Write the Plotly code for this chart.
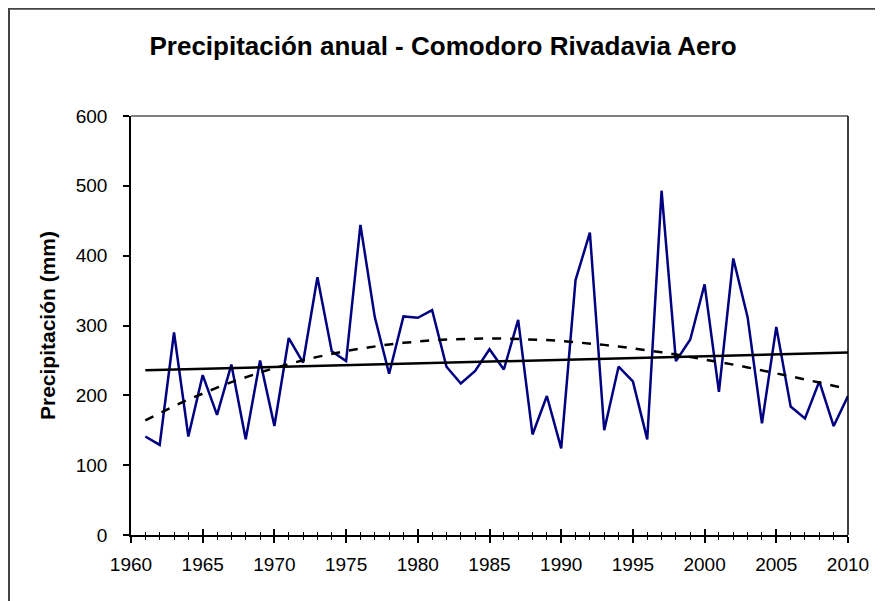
import numpy as np
import plotly.graph_objects as go

years = list(range(1961, 2011))
precip = [141, 129, 290, 141, 229, 172, 244, 137, 250, 156,
          282, 247, 369, 263, 249, 444, 312, 231, 313, 311,
          322, 241, 217, 235, 266, 237, 308, 144, 199, 124,
          365, 433, 150, 241, 220, 137, 493, 249, 280, 359,
          205, 396, 312, 160, 298, 184, 167, 220, 156, 199]

title_text = "Precipitación anual - Comodoro Rivadavia Aero"
y_title = "Precipitación (mm)"
x_ticks = list(range(1960, 2011, 5))
y_ticks = list(range(0, 601, 100))

x = np.array(years, dtype=float)
yv = np.array(precip, dtype=float)
xc = x - x.mean()
lin = np.polyval(np.polyfit(xc, yv, 1), xc)
poly = np.polyval(np.polyfit(xc, yv, 3), xc)

fig = go.Figure()
fig.add_trace(go.Scatter(x=years, y=precip, mode="lines",
                         line=dict(color="#000080", width=2.5), showlegend=False))
fig.add_trace(go.Scatter(x=years, y=lin, mode="lines",
                         line=dict(color="black", width=2.5), showlegend=False))
fig.add_trace(go.Scatter(x=years, y=poly, mode="lines",
                         line=dict(color="black", width=2.5, dash="dash"), showlegend=False))
# invisible trace on overlay axis to carry inside ticks
fig.add_trace(go.Scatter(x=[1960, 2010], y=[0, 0], xaxis="x2", mode="lines",
                         line=dict(width=0), opacity=0, showlegend=False, hoverinfo="skip"))

font_family = "Liberation Sans, Arial, sans-serif"
# page body has an 8px margin, so the figure is 8px smaller and offset
fig.update_layout(
    width=875, height=593,
    margin=dict(l=123, r=35, t=108, b=66),
    paper_bgcolor="white", plot_bgcolor="white",
    font=dict(family=font_family, color="black", size=19),
    title=dict(text="<b>" + title_text + "</b>", x=(443 - 8) / 875,
               xref="container", xanchor="center",
               y=1 - (46 - 8) / 593, yanchor="middle", font=dict(size=26, family=font_family)),
    xaxis=dict(range=[1960, 2010], tickvals=x_ticks, ticks="outside", ticklen=6,
               tickwidth=1.5, tickcolor="black", showgrid=False, zeroline=False,
               showline=True, linecolor="black", linewidth=1.5, mirror=False,
               tickfont=dict(size=19), ticklabelstandoff=5,
               minor=dict(dtick=1, ticks="outside", ticklen=3, tickwidth=1, tickcolor="black")),
    xaxis2=dict(range=[1960, 2010], overlaying="x", anchor="y", side="bottom",
                tickvals=x_ticks, ticks="inside", ticklen=6, tickwidth=1.5,
                tickcolor="black", showticklabels=False, showgrid=False, zeroline=False,
                showline=False,
                minor=dict(dtick=1, ticks="inside", ticklen=3, tickwidth=1, tickcolor="black")),
    yaxis=dict(range=[0, 600], tickvals=y_ticks, ticks="outside", ticklen=6,
               tickwidth=1.5, tickcolor="black", showgrid=False, zeroline=False,
               showline=True, linecolor="black", linewidth=1.5,
               tickfont=dict(size=19), ticklabelstandoff=12,
               title=dict(text="<b>" + y_title + "</b>", font=dict(size=21), standoff=14)),
    shapes=[
        dict(type="line", xref="paper", yref="paper", x0=0, x1=1, y0=1, y1=1,
             line=dict(color="#555555", width=1.5)),
        dict(type="line", xref="paper", yref="paper", x0=1, x1=1, y0=0, y1=1,
             line=dict(color="black", width=1.5)),
        dict(type="rect", xref="paper", yref="paper",
             x0=(9 - 131) / 717, x1=1.2, y0=-0.3, y1=(535 - 8.8) / 419,
             line=dict(color="#444444", width=2), fillcolor="rgba(0,0,0,0)", layer="below"),
    ],
)

fig.write_html("out.html")
